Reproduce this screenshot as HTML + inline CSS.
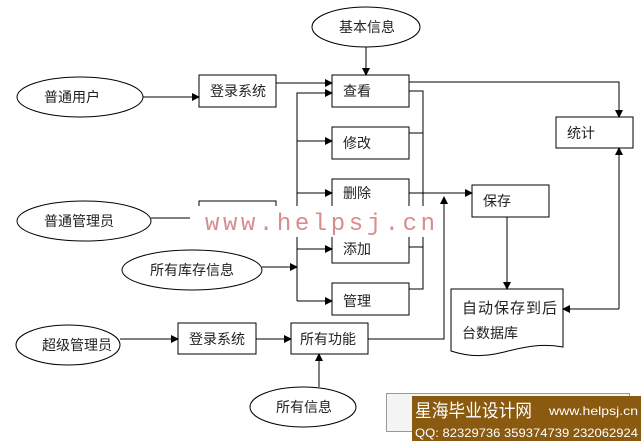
<!DOCTYPE html>
<html><head><meta charset="utf-8"><style>
html,body{margin:0;padding:0;background:#fff;}
svg{display:block;}
text{font-family:"Liberation Sans","Noto Sans CJK SC",sans-serif;font-size:14px;fill:#222;}
</style></head><body>
<svg width="641" height="441" viewBox="0 0 641 441" xmlns="http://www.w3.org/2000/svg">
<defs><marker id="a" markerWidth="8" markerHeight="8" refX="7" refY="4" orient="auto" markerUnits="userSpaceOnUse"><path d="M0,0 L8,4 L0,8 z" fill="#000"/></marker></defs>
<g fill="#fff" stroke="#000" stroke-width="1">
<ellipse cx="366" cy="27" rx="54" ry="20"/>
<ellipse cx="80" cy="97" rx="63" ry="20"/>
<ellipse cx="84" cy="221" rx="67" ry="20"/>
<ellipse cx="192" cy="270" rx="70" ry="20"/>
<ellipse cx="68" cy="345" rx="52" ry="20"/>
<ellipse cx="303" cy="407" rx="53" ry="20"/>
<rect x="199" y="75" width="77" height="32"/>
<rect x="332" y="75" width="77" height="32"/>
<rect x="332" y="127" width="77" height="32"/>
<rect x="332" y="179" width="77" height="32"/>
<rect x="332" y="231" width="77" height="32"/>
<rect x="332" y="283" width="77" height="32"/>
<rect x="472" y="185" width="77" height="32"/>
<rect x="556" y="117" width="77" height="31"/>
<rect x="178" y="323" width="78" height="31"/>
<rect x="291" y="323" width="77" height="31"/>
<path d="M451,289 H563 V347 C535,342 515,350 495,354 C475,358 460,354 451,351 Z"/>
</g>
<g fill="none" stroke="#000" stroke-width="1">
<line x1="366" y1="47" x2="366" y2="75" marker-end="url(#a)"/>
<line x1="143" y1="97" x2="199" y2="97" marker-end="url(#a)"/>
<line x1="276" y1="83" x2="332" y2="83" marker-end="url(#a)"/>
<path d="M297,301 V93 H332" marker-end="url(#a)"/>
<line x1="297" y1="141" x2="332" y2="141" marker-end="url(#a)"/>
<line x1="297" y1="193" x2="332" y2="193" marker-end="url(#a)"/>
<line x1="297" y1="249" x2="332" y2="249" marker-end="url(#a)"/>
<line x1="297" y1="301" x2="332" y2="301" marker-end="url(#a)"/>
<line x1="262" y1="267" x2="297" y2="267" marker-end="url(#a)"/>
<path d="M409,91 H423 V289 H409"/>
<line x1="409" y1="133" x2="423" y2="133"/>
<line x1="409" y1="247" x2="423" y2="247"/>
<line x1="409" y1="193" x2="472" y2="193" marker-end="url(#a)"/>
<path d="M368,339 H444 V197" marker-end="url(#a)"/>
<path d="M409,82 H619 V117" marker-end="url(#a)"/>
<path d="M619,309 V148" marker-end="url(#a)"/>
<path d="M619,309 H563" marker-end="url(#a)"/>
<line x1="507" y1="217" x2="507" y2="289" marker-end="url(#a)"/>
<line x1="151" y1="218" x2="190" y2="218"/>
<path d="M199,210 V201 H276 V210"/>
<line x1="120" y1="339" x2="178" y2="339" marker-end="url(#a)"/>
<line x1="256" y1="339" x2="291" y2="339" marker-end="url(#a)"/>
<line x1="319" y1="387" x2="319" y2="354" marker-end="url(#a)"/>
</g>
<rect x="190" y="206" width="250" height="31" fill="#fff"/>
<text x="205" y="230" textLength="230" lengthAdjust="spacing" style="font-family:'Liberation Mono',monospace;font-size:24px;fill:#d98c8c">www.helpsj.cn</text>
<text x="339" y="32">基本信息</text>
<text x="44" y="102">普通用户</text>
<text x="210" y="96">登录系统</text>
<text x="343" y="96">查看</text>
<text x="343" y="148">修改</text>
<text x="343" y="198">删除</text>
<text x="343" y="254">添加</text>
<text x="343" y="306">管理</text>
<text x="483" y="206">保存</text>
<text x="567" y="138">统计</text>
<text x="44" y="226">普通管理员</text>
<text x="150" y="275">所有库存信息</text>
<text x="42" y="350">超级管理员</text>
<text x="189" y="344">登录系统</text>
<text x="300" y="344">所有功能</text>
<text x="276" y="412">所有信息</text>
<text x="462" y="313" style="font-size:15px;letter-spacing:1px">自动保存到后</text>
<text x="462" y="338">台数据库</text>
<rect x="386.5" y="393.5" width="243" height="38" fill="#f4f4f4" stroke="#999"/>
<rect x="412" y="396" width="229" height="45" fill="#8a5a10"/>
<text x="415" y="417" textLength="117" lengthAdjust="spacingAndGlyphs" style="font-size:18px;fill:#fff">星海毕业设计网</text>
<text x="549" y="415" textLength="89" lengthAdjust="spacingAndGlyphs" style="font-size:12px;fill:#fff">www.helpsj.cn</text>
<text x="415" y="437" textLength="223" lengthAdjust="spacingAndGlyphs" style="font-size:12px;fill:#fff">QQ: 82329736  359374739  232062924</text>
</svg>
</body></html>
